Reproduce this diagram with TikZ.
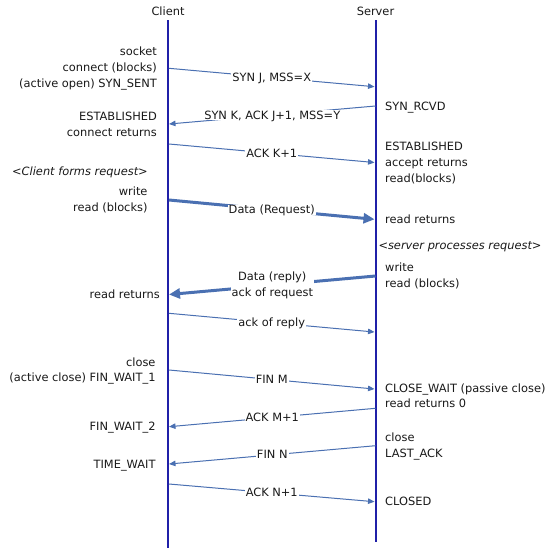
\documentclass[tikz,border=0pt]{standalone}
\usepackage{fontspec}
\setmainfont{DejaVu Sans}
\usetikzlibrary{arrows.meta}
\definecolor{life}{RGB}{32,32,168}
\definecolor{msg}{RGB}{74,112,178}
\definecolor{txt}{RGB}{25,25,25}
\begin{document}
\begin{tikzpicture}[x=1pt,y=-1pt,
  font=\fontsize{11.4}{15.6}\selectfont,
  every node/.style={text=txt},
  lifeline/.style={draw=life, line width=2pt},
  msgline/.style={draw=msg, line width=1pt, -{Triangle[length=6.5pt,width=5.5pt]}},
  datamsg/.style={draw=msg, line width=3pt, -{Triangle[length=11pt,width=10pt]}},
  mlabel/.style={midway, fill=white, inner sep=1pt, text height=8.2pt, text depth=0pt},
  ltext/.style={anchor=east, inner sep=0pt, text height=8.2pt, text depth=0pt},
  rtext/.style={anchor=west, inner sep=0pt, text height=8.2pt, text depth=0pt},
  head/.style={inner sep=0pt, text height=8.2pt, text depth=0pt}]
\useasboundingbox (0,0) rectangle (554,550);
\fill[white] (0,0) rectangle (554,550);

% headers and lifelines
\node[head] (client) at (168,11) {Client};
\node[head] (server) at (375.5,11) {Server};
\coordinate (ctop) at (168,20);
\coordinate (cbot) at (168,548);
\coordinate (stop) at (375.5,20);
\coordinate (sbot) at (375.5,541.5);
\draw[lifeline] (ctop) -- (cbot);
\draw[lifeline] (stop) -- (sbot);

% message end points
\coordinate (c1) at (169,68.3);   \coordinate (s1) at (374.5,86.7);
\coordinate (s2) at (375.5,106);  \coordinate (c2) at (169,124);
\coordinate (c3) at (169,144);    \coordinate (s3) at (374.5,162.5);
\coordinate (c4) at (169,200);    \coordinate (s4) at (374.5,219.3);
\coordinate (s5) at (375.5,276);  \coordinate (c5) at (169,294.5);
\coordinate (c6) at (169,313.3);  \coordinate (s6) at (374.5,332);
\coordinate (c7) at (169,370);    \coordinate (s7) at (374.5,389);
\coordinate (s8) at (375.5,408.3);\coordinate (c8) at (169,426.7);
\coordinate (s9) at (375.5,445.7);\coordinate (c9) at (169,464);
\coordinate (c10) at (169,484);   \coordinate (s10) at (374.5,501.7);

% messages
\draw[msgline] (c1) -- node[mlabel] (m1) {SYN J, MSS=X} (s1);
\draw[msgline] (s2) -- node[mlabel] (m2) {SYN K, ACK J+1, MSS=Y} (c2);
\draw[msgline] (c3) -- node[mlabel] (m3) {ACK K+1} (s3);
\draw[datamsg] (c4) -- node[mlabel] (m4) {Data (Request)} (s4);
\draw[datamsg] (s5) -- node[midway, fill=white, inner sep=1pt, align=center] (m5) {Data (reply)\\ack of request} (c5);
\draw[msgline] (c6) -- node[mlabel] (m6) {ack of reply} (s6);
\draw[msgline] (c7) -- node[mlabel] (m7) {FIN M} (s7);
\draw[msgline] (s8) -- node[mlabel] (m8) {ACK M+1} (c8);
\draw[msgline] (s9) -- node[mlabel] (m9) {FIN N} (c9);
\draw[msgline] (c10) -- node[mlabel] (m10) {ACK N+1} (s10);

% client side texts
\node[ltext] (lsock) at (157,51.7) {socket};
\node[ltext] (lconn) at (157,67.7) {connect (blocks)};
\node[ltext] (lsent) at (157,83.3) {(active open) SYN\_SENT};
\node[ltext] (lest) at (157,116.7) {ESTABLISHED};
\node[ltext] (lconnret) at (157,132.7) {connect returns};
\node[ltext] (lforms) at (148,171.7) {\itshape <Client forms request>};
\node[ltext] (lwrite) at (147.7,191.7) {write};
\node[ltext] (lreadb) at (147.7,207.7) {read (blocks)};
\node[ltext] (lreadret) at (160,294.3) {read returns};
\node[ltext] (lclose) at (155.7,362.7) {close};
\node[ltext] (lfw1) at (155.7,377.7) {(active close) FIN\_WAIT\_1};
\node[ltext] (lfw2) at (155.7,426) {FIN\_WAIT\_2};
\node[ltext] (ltw) at (155.7,464) {TIME\_WAIT};

% server side texts
\node[rtext] (rsyn) at (385,106) {SYN\_RCVD};
\node[rtext] (rest) at (385,146) {ESTABLISHED};
\node[rtext] (racc) at (385,162.5) {accept returns};
\node[rtext] (rreadb) at (385,178.5) {read(blocks)};
\node[rtext] (rreadret) at (385,219) {read returns};
\node[rtext] (rproc) at (378.3,245) {\itshape <server processes request>};
\node[rtext] (rwrite) at (385,267.3) {write};
\node[rtext] (rreadb2) at (385,283.3) {read (blocks)};
\node[rtext] (rcw) at (385,388) {CLOSE\_WAIT (passive close)};
\node[rtext] (rret0) at (385,403.5) {read returns 0};
\node[rtext] (rclose) at (385,437.7) {close};
\node[rtext] (rlast) at (385,453.3) {LAST\_ACK};
\node[rtext] (rclosed) at (385,501) {CLOSED};
\end{tikzpicture}
\end{document}
